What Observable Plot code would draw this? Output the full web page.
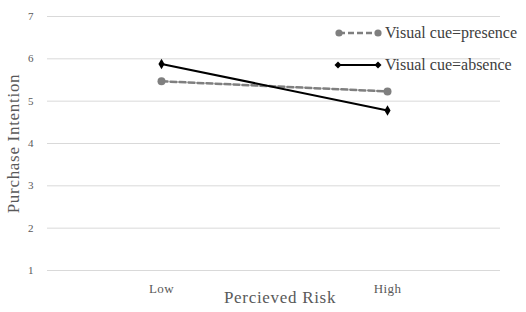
<!DOCTYPE html>
<html>
<head>
<meta charset="utf-8">
<script src="https://cdn.jsdelivr.net/npm/d3@7"></script>
<script src="https://cdn.jsdelivr.net/npm/@observablehq/plot@0.6"></script>
<style>
  html, body { margin: 0; padding: 0; background: #fff; }
  #wrap { position: relative; width: 526px; height: 312px; overflow: hidden; font-family: "Liberation Serif", "DejaVu Serif", serif; }
  .legend { position: absolute; left: 333px; top: 24px; width: max-content; white-space: nowrap; font-size: 16px; letter-spacing: 0; color: #404040; font-family: "Liberation Serif", "DejaVu Serif", serif; }
  .legend .row { display: flex; align-items: center; height: 18px; margin-bottom: 14px; }
  .legend svg { display: block; margin-right: 1px; flex: none; }
  .title-text { letter-spacing: 0.7px; }
  .tick-x text { letter-spacing: 0.4px; }
</style>
</head>
<body>
<div id="wrap"></div>
<script>
// Purchase intention by perceived risk, split by visual cue condition
const risk = ["Low", "High"];
const presence = [5.47, 5.23];
const absence = [5.88, 4.78];
const yTicks = [1, 2, 3, 4, 5, 6, 7];
const seriesNames = ["Visual cue=presence", "Visual cue=absence"];

const rows = [
  ...risk.map((r, i) => ({risk: r, value: presence[i], series: seriesNames[0]})),
  ...risk.map((r, i) => ({risk: r, value: absence[i], series: seriesNames[1]}))
];
const pres = rows.filter(d => d.series === seriesNames[0]);
const abs = rows.filter(d => d.series === seriesNames[1]);

const serif = "'Liberation Serif', 'DejaVu Serif', serif";
const grey = "#7f7f7f";

const chart = Plot.plot({
  width: 526,
  height: 312,
  marginLeft: 47,
  marginRight: 26,
  marginTop: 16,
  marginBottom: 42,
  style: {fontFamily: serif, color: "#595959", background: "#fff"},
  x: {type: "band", domain: risk, padding: 0, label: null},
  y: {domain: [1, 7], ticks: yTicks, label: null},
  marks: [
    Plot.gridY(yTicks, {stroke: "#d9d9d9", strokeOpacity: 1, strokeWidth: 1}),
    Plot.axisY(yTicks, {tickSize: 0, tickPadding: 14, fontSize: 11, label: null, tickFormat: d => d}),
    Plot.axisX({tickSize: 0, tickPadding: 13, fontSize: 13, label: null, className: "tick-x"}),
    Plot.text(["Percieved Risk"], {frameAnchor: "bottom", dx: 6, dy: 32, fontSize: 17, fill: "#595959", className: "title-text"}),
    Plot.text(["Purchase Intention"], {frameAnchor: "left", textAnchor: "middle", dx: -34, rotate: -90, fontSize: 17, fill: "#595959", className: "title-text"}),
    Plot.line(pres, {x: "risk", y: "value", stroke: grey, strokeWidth: 2.5, strokeDasharray: "6,3"}),
    Plot.dot(pres, {x: "risk", y: "value", fill: grey, r: 4, symbol: "circle"}),
    Plot.line(abs, {x: "risk", y: "value", stroke: "#000", strokeWidth: 2}),
    Plot.dot(abs, {x: "risk", y: "value", fill: "#000", r: 3.2, symbol: "diamond"})
  ]
});

const wrap = document.getElementById("wrap");
wrap.appendChild(chart);

// Legend with line-and-marker swatches
const legend = document.createElement("div");
legend.className = "legend";
legend.innerHTML = `
  <div class="row">
    <svg width="51" height="12"><line x1="6" y1="6" x2="45" y2="6" stroke="${grey}" stroke-width="2.5" stroke-dasharray="6,3"/>
      <circle cx="6" cy="6" r="3.6" fill="${grey}"/><circle cx="45" cy="6" r="3.6" fill="${grey}"/></svg>
    <span>${seriesNames[0]}</span>
  </div>
  <div class="row">
    <svg width="51" height="12"><line x1="5" y1="6" x2="45" y2="6" stroke="#000" stroke-width="2"/>
      <path d="M5,2.5L8.5,6L5,9.5L1.5,6Z" fill="#000"/><path d="M45,2.5L48.5,6L45,9.5L41.5,6Z" fill="#000"/></svg>
    <span>${seriesNames[1]}</span>
  </div>`;
wrap.appendChild(legend);
</script>
</body>
</html>
